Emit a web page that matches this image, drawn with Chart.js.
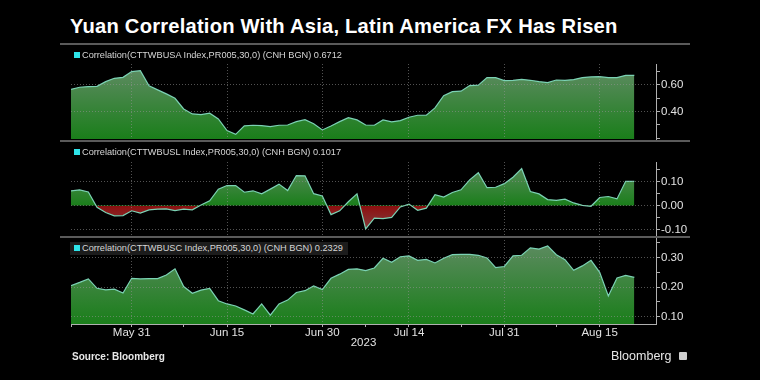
<!DOCTYPE html>
<html><head><meta charset="utf-8">
<script src="https://cdn.jsdelivr.net/npm/chart.js@4/dist/chart.umd.min.js"></script>
<style>
html,body{margin:0;padding:0;background:#000;width:760px;height:380px;overflow:hidden;}
#wrap{position:relative;width:760px;height:380px;background:#000;font-family:"Liberation Sans",Arial,sans-serif;}
canvas{position:absolute;left:0;}
.sep{position:absolute;left:60px;width:630px;height:2px;background:#5a5a5a;}
.title{position:absolute;left:70px;top:15px;color:#fff;font-weight:bold;font-size:20.2px;white-space:nowrap;letter-spacing:0.2px;}
.leg{position:absolute;left:74px;color:#d6d6d6;font-size:9.2px;white-space:nowrap;line-height:13px;height:13px;}
.leg i{display:inline-block;width:6px;height:6px;background:#2ee3e8;margin-right:2px;vertical-align:0px;}
.leg.box{left:70px;padding:0 5px 0 4px;background:#1c1c1c;}
.src{position:absolute;left:72px;top:351px;color:#e8e8e8;font-size:10px;font-weight:bold;white-space:nowrap;}
.logo{position:absolute;left:611px;top:349px;color:#e6e6e6;font-size:12.5px;white-space:nowrap;}
.icon{position:absolute;left:679px;top:352px;width:8px;height:8px;background:#cfcfcf;border-radius:1px;}
</style>
</head><body>
<div id="wrap">
<canvas id="c1" width="760" height="96" style="top:44px"></canvas>
<canvas id="c2" width="760" height="95" style="top:142px"></canvas>
<canvas id="c3" width="760" height="150" style="top:230px"></canvas>
<div class="title">Yuan Correlation With Asia, Latin America FX Has Risen</div>
<div class="sep" style="top:43px"></div>
<div class="sep" style="top:140px"></div>
<div class="sep" style="top:236px"></div>
<div class="leg" style="top:48.5px"><i></i>Correlation(CTTWBUSA Index,PR005,30,0) (CNH BGN) 0.6712</div>
<div class="leg" style="top:146px"><i></i>Correlation(CTTWBUSL Index,PR005,30,0) (CNH BGN) 0.1017</div>
<div class="leg box" style="top:242px"><i></i>Correlation(CTTWBUSC Index,PR005,30,0) (CNH BGN) 0.2329</div>
<div class="src">Source: Bloomberg</div>
<div class="logo">Bloomberg</div>
<div class="icon"></div>
</div>
<script>
// ---------- data ----------
const dates = [
 '2023-05-22','2023-05-23','2023-05-24','2023-05-25','2023-05-26','2023-05-29','2023-05-30','2023-05-31',
 '2023-06-01','2023-06-02','2023-06-05','2023-06-06','2023-06-07','2023-06-08','2023-06-09','2023-06-12',
 '2023-06-13','2023-06-14','2023-06-15','2023-06-16','2023-06-19','2023-06-20','2023-06-21','2023-06-22',
 '2023-06-23','2023-06-26','2023-06-27','2023-06-28','2023-06-29','2023-06-30','2023-07-03','2023-07-04',
 '2023-07-05','2023-07-06','2023-07-07','2023-07-10','2023-07-11','2023-07-12','2023-07-13','2023-07-14',
 '2023-07-17','2023-07-18','2023-07-19','2023-07-20','2023-07-21','2023-07-24','2023-07-25','2023-07-26',
 '2023-07-27','2023-07-28','2023-07-31','2023-08-01','2023-08-02','2023-08-03','2023-08-04','2023-08-07',
 '2023-08-08','2023-08-09','2023-08-10','2023-08-11','2023-08-14','2023-08-15','2023-08-16','2023-08-17',
 '2023-08-18','2023-08-21'];

const asiaValues = [
 0.567,0.583,0.588,0.590,0.625,0.650,0.657,0.700,0.707,0.593,0.563,0.533,0.500,0.420,0.383,0.378,
 0.388,0.345,0.258,0.230,0.293,0.298,0.295,0.288,0.298,0.300,0.325,0.340,0.310,0.263,0.293,0.325,
 0.355,0.338,0.300,0.298,0.338,0.323,0.333,0.358,0.373,0.373,0.428,0.520,0.550,0.553,0.595,0.598,
 0.655,0.655,0.632,0.635,0.642,0.635,0.625,0.617,0.637,0.635,0.640,0.655,0.660,0.662,0.655,0.655,
 0.672,0.6712];

const latamValues = [
 0.062,0.066,0.057,-0.007,-0.029,-0.043,-0.042,-0.022,-0.032,-0.018,-0.015,-0.014,-0.021,-0.015,-0.018,0.002,
 0.020,0.069,0.084,0.084,0.056,0.062,0.049,0.069,0.090,0.063,0.126,0.125,0.050,0.040,-0.038,-0.022,
 0.016,0.049,-0.098,-0.053,-0.055,-0.050,-0.006,0.006,-0.020,-0.011,0.046,0.036,0.055,0.066,0.108,0.138,
 0.075,0.077,0.092,0.119,0.155,0.059,0.049,0.025,0.022,0.027,0.011,0.001,-0.003,0.034,0.038,0.028,
 0.102,0.1017];

const cnhValues = [
 0.205,0.216,0.228,0.196,0.191,0.193,0.180,0.230,0.228,0.229,0.229,0.241,0.262,0.202,0.179,0.190,
 0.196,0.154,0.143,0.136,0.123,0.109,0.143,0.105,0.143,0.156,0.182,0.188,0.204,0.192,0.230,0.244,
 0.260,0.262,0.256,0.265,0.298,0.284,0.303,0.306,0.291,0.294,0.282,0.298,0.310,0.311,0.311,0.308,
 0.299,0.266,0.270,0.306,0.308,0.333,0.329,0.340,0.310,0.293,0.257,0.272,0.291,0.250,0.170,0.231,
 0.240,0.2329];

const tickDates = ['2023-05-31','2023-06-15','2023-06-30','2023-07-14','2023-07-31','2023-08-15'];
const tickLabels = ['May 31','Jun 15','Jun 30','Jul 14','Jul 31','Aug 15'];
const minorTickDates = ['2023-05-22','2023-06-08','2023-06-22','2023-07-07','2023-07-24','2023-08-08'];
const yearLabel = '2023';

const asiaTicks = [0.2,0.3,0.4,0.5,0.6,0.7];
const asiaLabeled = [0.4,0.6];
const latamTicks = [-0.1,-0.05,0,0.05,0.1,0.15];
const latamLabeled = [-0.1,0,0.1];
const cnhTicks = [0.1,0.15,0.2,0.25,0.3,0.35];
const cnhLabeled = [0.1,0.2,0.3];

// ---------- helpers ----------
const majorIdx = tickDates.map(d => dates.indexOf(d));
const minorIdx = minorTickDates.map(d => dates.indexOf(d));
const GRID = 'rgba(150,150,150,0.55)';
const AXIS = '#b0b0b0';
const TXT = '#e2e2e2';
const FONT = {family:'"Liberation Sans", Arial, sans-serif', size:11.5};
const isIn = (arr, v) => arr.some(a => Math.abs(a - v) < 1e-9);

function topBottomGrad(c) {
  const ch = c.chart, a = ch.chartArea;
  if (!a) return 'rgba(30,125,30,1)';
  const g = ch.ctx.createLinearGradient(0, a.top, 0, a.bottom);
  g.addColorStop(0, 'rgb(98,140,102)');
  g.addColorStop(1, 'rgb(26,126,26)');
  return g;
}
function zeroGrad(c) {
  const ch = c.chart, a = ch.chartArea;
  if (!a || !ch.scales.y) return 'rgba(30,125,30,1)';
  const z = ch.scales.y.getPixelForValue(0);
  const f = Math.min(Math.max((z - a.top) / (a.bottom - a.top), 0), 1);
  const g = ch.ctx.createLinearGradient(0, a.top, 0, a.bottom);
  g.addColorStop(0, 'rgb(96,140,100)');
  g.addColorStop(f, 'rgb(26,126,26)');
  g.addColorStop(f, 'rgb(140,14,14)');
  g.addColorStop(1, 'rgb(128,76,76)');
  return g;
}

function makeChart(id, values, o) {
  return new Chart(document.getElementById(id), {
    type: 'line',
    data: {
      datasets: [{
        data: dates.map((d, i) => ({x: i, y: values[i]})),
        borderColor: '#7bd2b4',
        borderWidth: 1.2,
        pointRadius: 0,
        tension: 0,
        fill: o.fill,
        backgroundColor: o.bg
      }]
    },
    options: {
      responsive: false,
      animation: false,
      events: [],
      layout: {padding: {left: 71, right: 0, top: o.padTop, bottom: o.padBottom}},
      plugins: {legend: {display: false}, tooltip: {enabled: false}},
      scales: {
        x: {
          type: 'linear',
          min: 0,
          max: dates.length - 1 + 2.5,
          afterBuildTicks: s => {
            const all = majorIdx.concat(minorIdx).sort((a, b) => a - b);
            s.ticks = all.map(v => ({value: v}));
          },
          afterFit: s => { s.height = o.xHeight; s.paddingLeft = 0; s.paddingRight = 0; },
          grid: {
            z: 1,
            color: c => (c.tick && majorIdx.includes(c.tick.value)) ? GRID : 'rgba(0,0,0,0)',
            lineWidth: 1,
            drawTicks: o.showX,
            tickLength: 3,
            tickColor: AXIS
          },
          border: {display: o.showX, color: AXIS, width: 1, dash: [1, 2], z: 1},
          ticks: {
            z: 1,
            display: o.showX,
            autoSkip: false,
            maxRotation: 0,
            padding: -1,
            color: TXT,
            font: FONT,
            callback: v => { const k = majorIdx.indexOf(v); return k >= 0 ? tickLabels[k] : ''; }
          },
          title: {display: o.showX, text: yearLabel, color: TXT, font: FONT, padding: {top: 0, bottom: 4}}
        },
        y: {
          position: 'right',
          min: o.min,
          max: o.max,
          afterBuildTicks: s => { s.ticks = o.ticks.map(v => ({value: v})); },
          afterFit: s => { s.width = 104; s.paddingTop = 0; s.paddingBottom = 0; },
          grid: {
            z: 1,
            color: c => (c.tick && isIn(o.labeled, c.tick.value)) ? GRID : 'rgba(0,0,0,0)',
            lineWidth: 1,
            drawTicks: true,
            tickLength: 4,
            tickColor: AXIS
          },
          border: {display: true, color: AXIS, width: 1, dash: [1, 2], z: 1},
          ticks: {
            z: 1,
            autoSkip: false,
            padding: 1,
            color: TXT,
            font: FONT,
            callback: v => isIn(o.labeled, v) ? v.toFixed(2) : ''
          }
        }
      }
    }
  });
}

makeChart('c1', asiaValues, {fill: 'start', bg: topBottomGrad, padTop: 20, padBottom: 1, xHeight: 0,
  showX: false, min: 0.195, max: 0.757, ticks: asiaTicks, labeled: asiaLabeled});
makeChart('c2', latamValues, {fill: {target: {value: 0}}, bg: zeroGrad, padTop: 20, padBottom: 0.5, xHeight: 0,
  showX: false, min: -0.13, max: 0.183, ticks: latamTicks, labeled: latamLabeled});
makeChart('c3', cnhValues, {fill: 'start', bg: topBottomGrad, padTop: 7, padBottom: 26, xHeight: 30,
  showX: true, min: 0.075, max: 0.37, ticks: cnhTicks, labeled: cnhLabeled});
</script>
</body></html>
